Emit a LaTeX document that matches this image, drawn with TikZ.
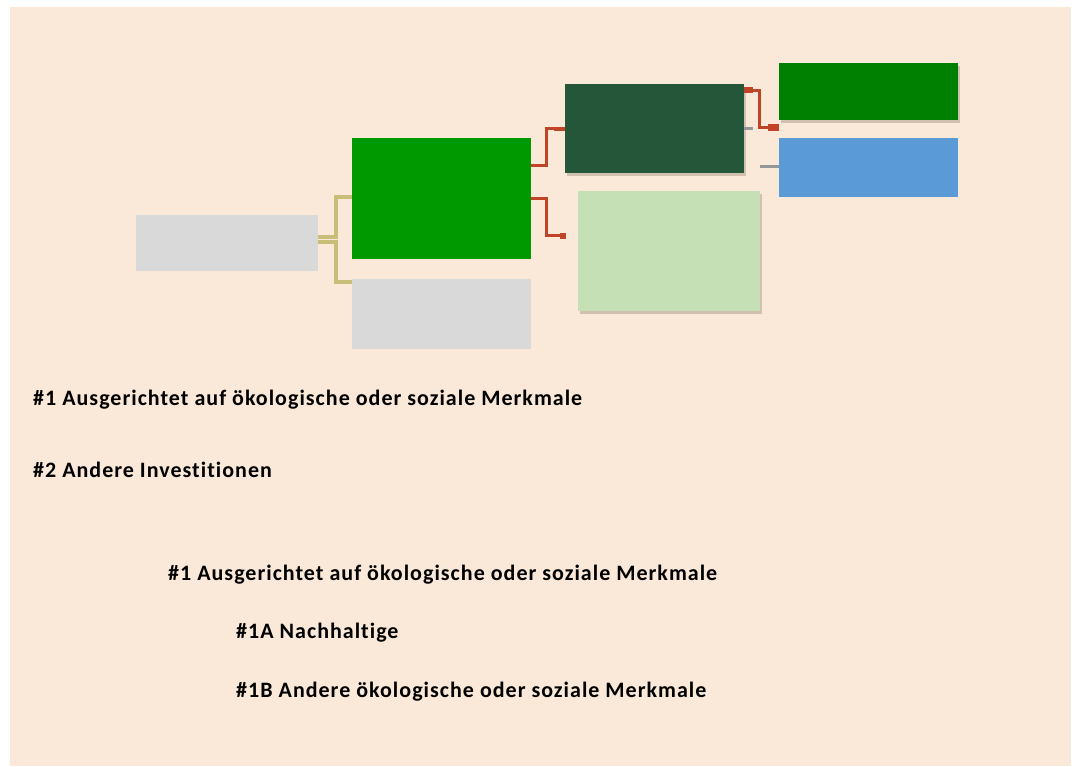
\documentclass[tikz,border=0pt]{standalone}
\usepackage{fontspec}
\setmainfont{Carlito}
\newfontfamily\lblfont[LetterSpace=4.6,Ligatures=NoCommon]{Carlito}
\usetikzlibrary{arrows.meta,shadows}
\definecolor{bgc}{RGB}{250,232,216}
\definecolor{grayc}{RGB}{217,217,217}
\definecolor{greenc}{RGB}{0,153,0}
\definecolor{darkgc}{RGB}{36,86,58}
\definecolor{lightgc}{RGB}{197,224,180}
\definecolor{green2c}{RGB}{0,128,0}
\definecolor{bluec}{RGB}{91,155,213}
\definecolor{olivec}{RGB}{200,190,120}
\definecolor{redc}{RGB}{192,68,38}
\definecolor{stubc}{RGB}{150,150,150}
\definecolor{shadc}{RGB}{120,100,80}
\tikzset{
  box/.style={anchor=north west, inner sep=0pt, outer sep=0pt, draw=none},
  shbox/.style={box, drop shadow={shadow xshift=2pt, shadow yshift=-3pt, opacity=0.3, fill=shadc}},
  oline/.style={draw=olivec, line width=3.2pt},
  rline/.style={draw=redc, line width=3pt},
  sline/.style={draw=stubc, line width=3pt},
  lbl/.style={anchor=base west, inner sep=0pt, font=\lblfont\bfseries\fontsize{22}{26}\selectfont}
}
\begin{document}
\begin{tikzpicture}[x=1pt,y=-1pt]
\useasboundingbox (0,0) rectangle (1074,766);
\fill[bgc] (10,7) rectangle (1071,766);
% boxes
\node[box, fill=grayc, minimum width=182pt, minimum height=56pt] (gl) at (136,215) {};
\node[box, fill=greenc, minimum width=179pt, minimum height=121pt] (g1) at (352,138) {};
\node[box, fill=grayc, minimum width=179pt, minimum height=70pt] (g2) at (352,279) {};
\node[shbox, fill=darkgc, minimum width=179pt, minimum height=89pt] (dg) at (565,84) {};
\node[shbox, fill=lightgc, minimum width=182pt, minimum height=120pt] (lg) at (578,191) {};
\node[shbox, fill=green2c, minimum width=179pt, minimum height=57pt] (gt) at (779,63) {};
\node[box, fill=bluec, minimum width=179pt, minimum height=59pt] (bl) at (779,138) {};
% olive connectors
\draw[oline] ([yshift=6pt]gl.east) -- ++(18,0) |- ([yshift=1.5pt]g1.west);
\draw[oline] ([yshift=1pt]gl.east) -- ++(18,0) |- ([yshift=32pt]g2.west);
% red connectors
\coordinate (r2end) at (566,235.5);
\draw[rline, -{Square[length=11pt,width=4pt]}] ([yshift=33pt]g1.east) -- ++(15,0) |- (dg.west);
\draw[rline, -{Square[length=6pt,width=6pt]}] (g1.east) -- ++(15,0) |- (r2end);
\draw[rline, {Square[length=9pt,width=6pt]}-{Square[length=11pt,width=7pt]}] ([yshift=38.5pt]dg.east) -- ++(15,0) |- ([yshift=-35.5pt]gt.west);
% gray stubs
\draw[sline] (dg.east) -- ++(9,0);
\draw[sline] ([xshift=-19pt,yshift=1.5pt]bl.west) -- ([yshift=1.5pt]bl.west);
% texts
\node[lbl] (t1) at (33,405) {\#1 Ausgerichtet auf ökologische oder soziale Merkmale};
\node[lbl] (t2) at (33,477) {\#2 Andere Investitionen};
\node[lbl] (t3) at (168,580) {\#1 Ausgerichtet auf ökologische oder soziale Merkmale};
\node[lbl] (t4) at (236,638) {\#1A Nachhaltige};
\node[lbl] (t5) at (236,697) {\#1B Andere ökologische oder soziale Merkmale};
\end{tikzpicture}
\end{document}
